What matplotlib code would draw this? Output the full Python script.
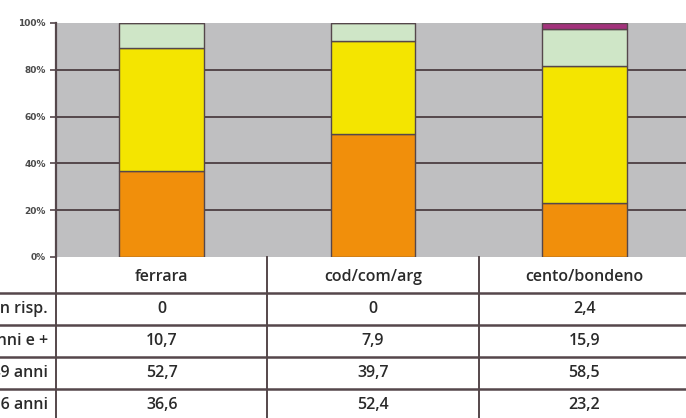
import matplotlib
matplotlib.use("Agg")
import matplotlib.pyplot as plt
import numpy as np

# data
zone = ["ferrara", "cod/com/arg", "cento/bondeno"]
righe = ["non risp.", "50 anni e +", "27-49 anni", "15-26 anni"]
non_risp = [0, 0, 2.4]
anni_50 = [10.7, 7.9, 15.9]
anni_27_49 = [52.7, 39.7, 58.5]
anni_26 = [36.6, 52.4, 23.2]
tabella = [["0", "0", "2,4"],
           ["10,7", "7,9", "15,9"],
           ["52,7", "39,7", "58,5"],
           ["36,6", "52,4", "23,2"]]
tick_labels = ["0%", "20%", "40%", "60%", "80%", "100%"]

W, H = 686, 418
linea = "#55474b"

fig = plt.figure(figsize=(W / 100, H / 100), dpi=100)
fig.patch.set_facecolor("white")

#%% grafico a barre
ax = fig.add_axes([56 / W, 161 / H, 634 / W, 234 / H])
ax.set_facecolor("#bfbfc1")
x = np.arange(len(zone))
serie = [anni_26, anni_27_49, anni_50, non_risp]
colori = ["#f18f0b", "#f4e500", "#cfe6c7", "#a3327c"]
base = np.zeros(len(zone))
for vals, col in zip(serie, colori):
    ax.bar(x, vals, 0.4, bottom=base, color=col, edgecolor=linea,
           linewidth=1.0, zorder=3)
    base += np.array(vals)

ax.set_xlim(-0.5, 2.5)
ax.set_ylim(0, 100)
for v in [20, 40, 60, 80]:
    ax.axhline(v, color=linea, lw=1.4, zorder=1)
ax.set_yticks([0, 20, 40, 60, 80, 100])
ax.set_yticklabels(tick_labels, fontsize=6.5, fontweight="bold",
                   color="#4a4a4a", family="DejaVu Sans")
ax.tick_params(axis="y", length=4.5, width=1.2, color=linea, pad=3)
ax.set_xticks([])
for s in ["top", "right", "bottom"]:
    ax.spines[s].set_visible(False)
ax.spines["left"].set_color(linea)
ax.spines["left"].set_linewidth(1.6)

#%% tabella
tb = fig.add_axes([56 / W, 0, 634 / W, 161 / H])
tb.set_xlim(-0.5, 2.5)
tb.set_ylim(418, 257)
tb.axis("off")
unit = 634 / 3
x_left = -0.5 - 60 / unit

for xv in [-0.5, 0.5, 1.5, 2.5]:
    tb.plot([xv, xv], [257, 418], color=linea, lw=1.4, clip_on=False)
for yv in [293, 325, 357, 389]:
    tb.plot([x_left, 2.5], [yv, yv], color=linea, lw=1.8, clip_on=False)

stile = dict(fontsize=11.5, color="#2a2a2a", family="Open Sans",
             fontweight="semibold")
for i, z in enumerate(zone):
    tb.text(i, 277, z, ha="center", va="center", **stile)
righe_y = [309, 341, 373, 405]
for r, (lab, yv) in enumerate(zip(righe, righe_y)):
    tb.text(-0.5 - 8 / unit, yv, lab, ha="right", va="center",
            clip_on=False, **stile)
    for i in range(len(zone)):
        tb.text(i, yv, tabella[r][i], ha="center", va="center", **stile)

fig.savefig("out.png", dpi=100)
